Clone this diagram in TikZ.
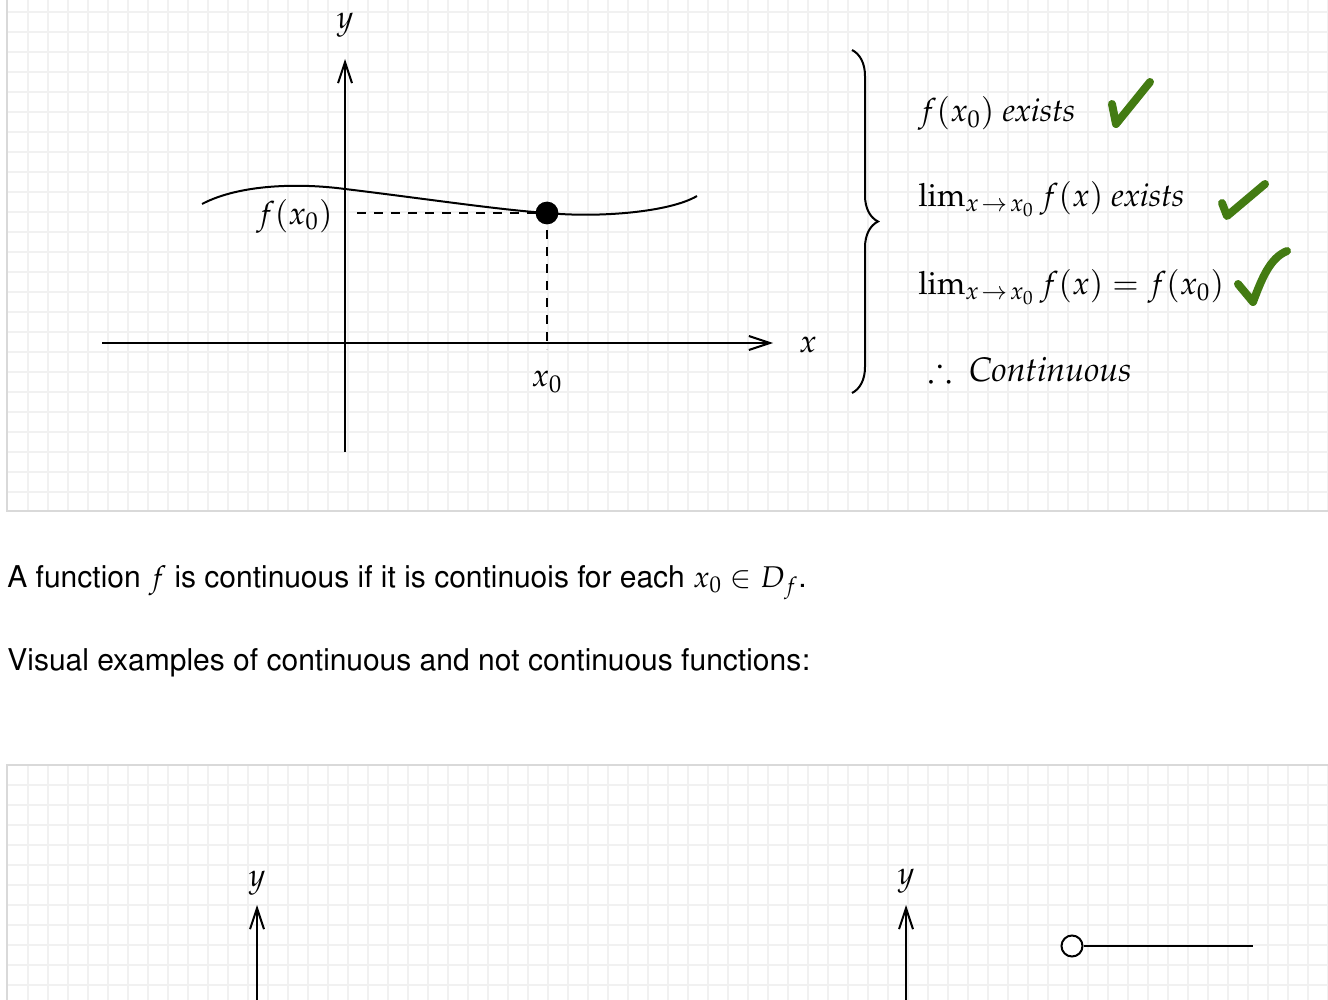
\documentclass[tikz,border=0pt]{standalone}
\usepackage[T1]{fontenc}
\usepackage{mathpazo}
\usepackage{amsmath,amssymb}
\usetikzlibrary{arrows.meta,positioning,calc,decorations.pathreplacing}
\definecolor{gridgray}{HTML}{F1F1F1}
\definecolor{panelgray}{HTML}{D9D9D9}
\definecolor{tickgreen}{HTML}{437B12}
\newcommand{\sanstext}{\fontfamily{phv}\selectfont}

\begin{document}
\begin{tikzpicture}[x=0.5pt, y=-0.5pt,
  gridline/.style={gridgray, line width=0.9pt},
  panel/.style={panelgray, line width=0.6pt},
  axis/.style={line width=1pt, -{Straight Barb[length=10.5pt, width=7pt, line width=1pt]}},
  graph/.style={line width=1pt},
  guide/.style={line width=1pt, dash pattern=on 4.5pt off 4pt},
  lbl/.style={inner sep=0pt, font=\fontsize{16}{19}\selectfont},
  cond/.style={inner sep=0pt, anchor=base west, font=\fontsize{16}{19}\selectfont},
  tick/.style={tickgreen, line width=4pt, line cap=round, line join=round},
  body/.style={inner sep=0pt, anchor=base west, font=\sanstext\fontsize{15}{17}\selectfont}
]
  \useasboundingbox (0,0) rectangle (1328,1000);
  \fill[white] (0,0) rectangle (1328,1000);

  % grid panels
  \foreach \gx in {28,48,...,1328} {
    \draw[gridline] (\gx,0) -- (\gx,511);
    \draw[gridline] (\gx,765) -- (\gx,1000);
  }
  \foreach \gy in {12,32,...,500} \draw[gridline] (7,\gy) -- (1328,\gy);
  \foreach \gy in {785,805,...,1000} \draw[gridline] (7,\gy) -- (1328,\gy);
  \draw[panel] (7,0) -- (7,511) -- (1328,511);
  \draw[panel] (7,1000) -- (7,765) -- (1328,765);

  % top graph
  \coordinate (ybot) at (345,452);
  \coordinate (ytop) at (345,59);
  \coordinate (xleft) at (102,343);
  \coordinate (xright) at (773,343);
  \draw[axis] (ybot) -- (ytop);
  \draw[axis] (xleft) -- (xright);
  \node[lbl] (ylab) at (345,25) {$y$};
  \node[lbl] (xlab) at (808,345) {$x$};

  \coordinate (pt) at (547,213);
  \draw[graph] (202,204) .. controls (240,184) and (300,183) .. (345,189)
    .. controls (420,198) and (500,210) .. (pt)
    .. controls (600,218) and (670,212) .. (697,196);
  \coordinate (ymark) at (357,213);
  \coordinate (xmark) at (547,349);
  \draw[guide] (ymark) -- (pt);
  \draw[guide] (pt) -- (xmark);
  \fill (pt) circle (5.7pt);
  \node[lbl, anchor=east] (fx0) at (333,216) {$f(x_0)$};
  \node[lbl] (x0) at (547,382) {$x_0$};

  % brace and conditions
  \draw[line width=1pt, decorate, decoration={brace, amplitude=13pt}] (852,50) -- (852,393);
  \node[cond] (cond1) at (918,122) {$f(x_0)$ \textit{exists}};
  \node[cond] (cond2) at (918,207) {$\lim_{x\mkern2mu\to\mkern2mu x_0} f(x)$ \textit{exists}};
  \node[cond] (cond3) at (918,295) {$\lim_{x\mkern2mu\to\mkern2mu x_0} f(x) = f(x_0)$};
  \node[cond, font=\fontsize{17}{19}\selectfont] (concl) at (928,381) {$\therefore$\ \ \textit{Continuous}};

  % green ticks
  \draw[tick] (1112,104) -- (1116,124) -- (1150,82);
  \draw[tick] (1222,203) -- (1227,216) -- (1265,184);
  \draw[tick] (1238,284) -- (1253,302) .. controls (1262,278) and (1270,258) .. (1287,251);

  % text
  \node[body] (deftext) at (7,587) {A function $f$ is continuous if it is continuois for each $x_0 \in D_f$.};
  \node[body] (examples) at (7,670) {Visual examples of continuous and not continuous functions:};

  % bottom graphs
  \coordinate (ly0) at (257,1000);
  \coordinate (ly1) at (257,905);
  \coordinate (ry0) at (906,1000);
  \coordinate (ry1) at (906,905);
  \draw[axis] (ly0) -- (ly1);
  \draw[axis] (ry0) -- (ry1);
  \node[lbl] (lylab) at (257,883) {$y$};
  \node[lbl] (rylab) at (906,881) {$y$};
  \node[circle, draw, line width=1pt, fill=white, minimum size=10.5pt, inner sep=0pt] (hole) at (1072,946) {};
  \coordinate (stepend) at (1253,946);
  \draw[graph] (hole) -- (stepend);
\end{tikzpicture}
\end{document}
